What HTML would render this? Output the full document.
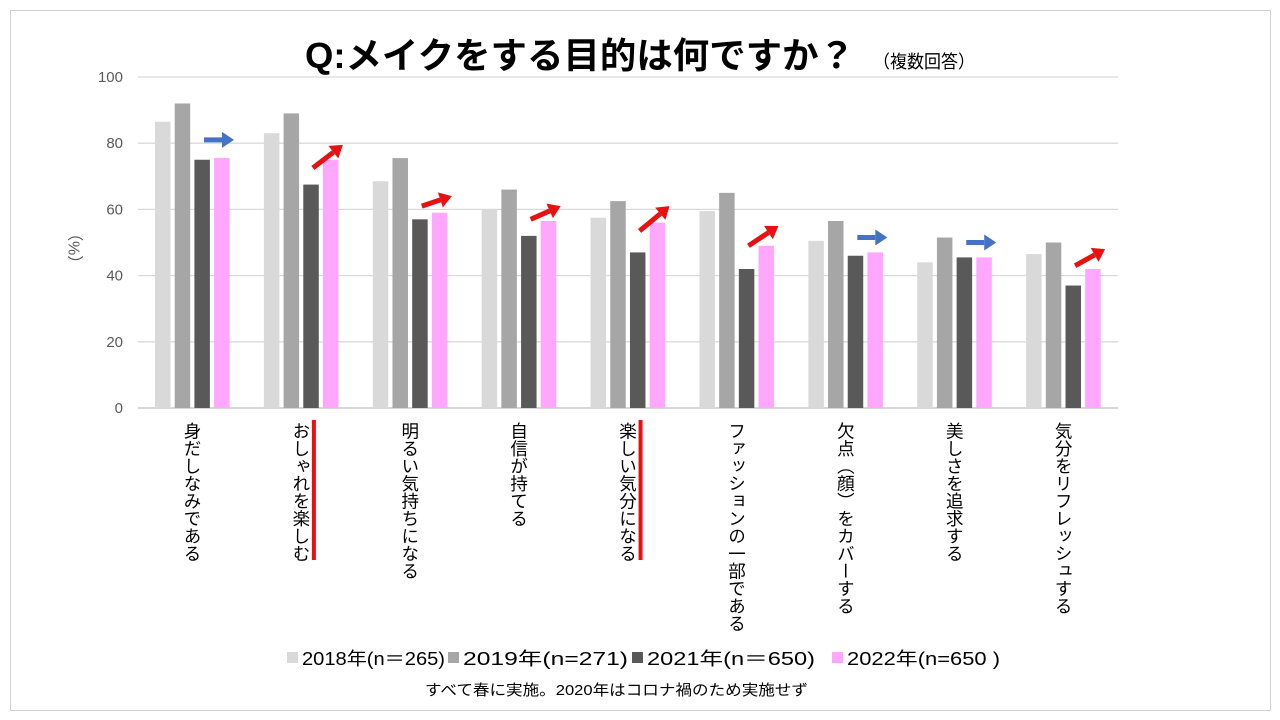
<!DOCTYPE html>
<html><head><meta charset="utf-8"><style>
body{margin:0;background:#fff;font-family:"Liberation Sans","Noto Sans CJK JP",sans-serif}
#wrap{position:relative;width:1280px;height:720px;overflow:hidden}
.frame{position:absolute;left:10px;top:10px;width:1259px;height:699px;border:1px solid #d0d0d0}
</style></head><body>
<div id="wrap">
<div class="frame"></div>
<svg id="chart" width="1280" height="720" style="position:absolute;left:0;top:0">
<text x="305" y="68" font-size="36" font-weight="bold" textLength="550" lengthAdjust="spacingAndGlyphs">Q:メイクをする目的は何ですか？</text>
<text x="873" y="68" font-size="18" textLength="102" lengthAdjust="spacingAndGlyphs">（複数回答）</text>
<text x="425" y="695" font-size="15" textLength="383" lengthAdjust="spacingAndGlyphs">すべて春に実施。2020年はコロナ禍のため実施せず</text>
</svg>
</div>
<script>
const categories=["身だしなみである","おしゃれを楽しむ","明るい気持ちになる","自信が持てる","楽しい気分になる","ファッションの一部である","欠点（顔）をカバーする","美しさを追求する","気分をリフレッシュする"];
const s2018=[86.5,83,68.5,60,57.5,59.5,50.5,44,46.5];
const s2019=[92,89,75.5,66,62.5,65,56.5,51.5,50];
const s2021=[75,67.5,57,52,47,42,46,45.5,37];
const s2022=[75.5,75,59,56.5,56,49,47,45.5,42];
const seriesNames=["2018年(n＝265)","2019年(n=271)","2021年(n＝650)","2022年(n=650 )"];
const arrowTail=[81,72.5,61,57,53.5,49,51.5,50,43];
const arrowHead=[81,79.5,64,61,61,55,51.5,50,48];
const arrowBlue=[true,false,false,false,false,false,true,true,false];
const redMarks=[1,4];
const yTicks=[0,20,40,60,80,100];
const colors=["#d9d9d9","#a6a6a6","#595959","#ffa6ff"];
const NS="http://www.w3.org/2000/svg";
const svg=document.getElementById('chart');
const x0=138,x1=1118,y0=408,yTop=77;
const step=(x1-x0)/categories.length;
const y=v=>y0-(v/100)*(y0-yTop);
const gx=i=>x0+17+i*step;
function mk(t,a){const e=document.createElementNS(NS,t);for(const k in a)e.setAttribute(k,a[k]);svg.appendChild(e);return e;}
yTicks.forEach(t=>{
 const l=mk('line',{x1:x0,x2:x1,y1:y(t),y2:y(t),stroke:t===0?'#bfbfbf':'#d9d9d9','stroke-width':1.3});
 
 const tx=mk('text',{x:123,y:y(t)+5,'text-anchor':'end','font-size':15,fill:'#595959'});tx.textContent=t;
 
});
const yl=mk('text',{x:73,y:225,'font-size':16,fill:'#595959','writing-mode':'tb'});yl.textContent='（%）';

const series=[s2018,s2019,s2021,s2022];
categories.forEach((c,i)=>{
 series.forEach((s,k)=>{
  const r=mk('rect',{x:gx(i)+k*19.7,y:y(s[i]),width:15.5,height:y0-y(s[i]),fill:colors[k]});
  
 });
 const t=mk('text',{x:gx(i)+37,y:422,'font-size':17.5,fill:'#000','writing-mode':'tb','glyph-orientation-vertical':0});
 t.textContent=c;
 const col=arrowBlue[i]?'#4472c4':'#e81010';
 const ax1=gx(i)+49,ax2=gx(i)+79,ay1=y(arrowTail[i]),ay2=y(arrowHead[i]);
 const ang=Math.atan2(ay2-ay1,ax2-ax1);const hl=12;
 const bx=ax2-hl*Math.cos(ang),by=ay2-hl*Math.sin(ang);
 const l=mk('line',{x1:ax1,y1:ay1,x2:bx,y2:by,stroke:col,'stroke-width':5});
 
 const px=-Math.sin(ang)*8,py=Math.cos(ang)*8;
 const p=mk('polygon',{points:`${ax2},${ay2} ${bx+px},${by+py} ${bx-px},${by-py}`,fill:col});
 
});
redMarks.forEach(i=>{
 const l=mk('line',{x1:gx(i)+50,x2:gx(i)+50,y1:420,y2:560,stroke:'#e81010','stroke-width':4});
 
});
const lx=[287,448,632,832];
const lw=[143,165,168,153];
seriesNames.forEach((n,k)=>{
 const r=mk('rect',{x:lx[k],y:652,width:11,height:11,fill:colors[k]});
 
 const t=mk('text',{x:lx[k]+15,y:665,'font-size':18,fill:'#000',textLength:lw[k],lengthAdjust:'spacingAndGlyphs'});t.textContent=n;
 
});
</script>
</body></html>
